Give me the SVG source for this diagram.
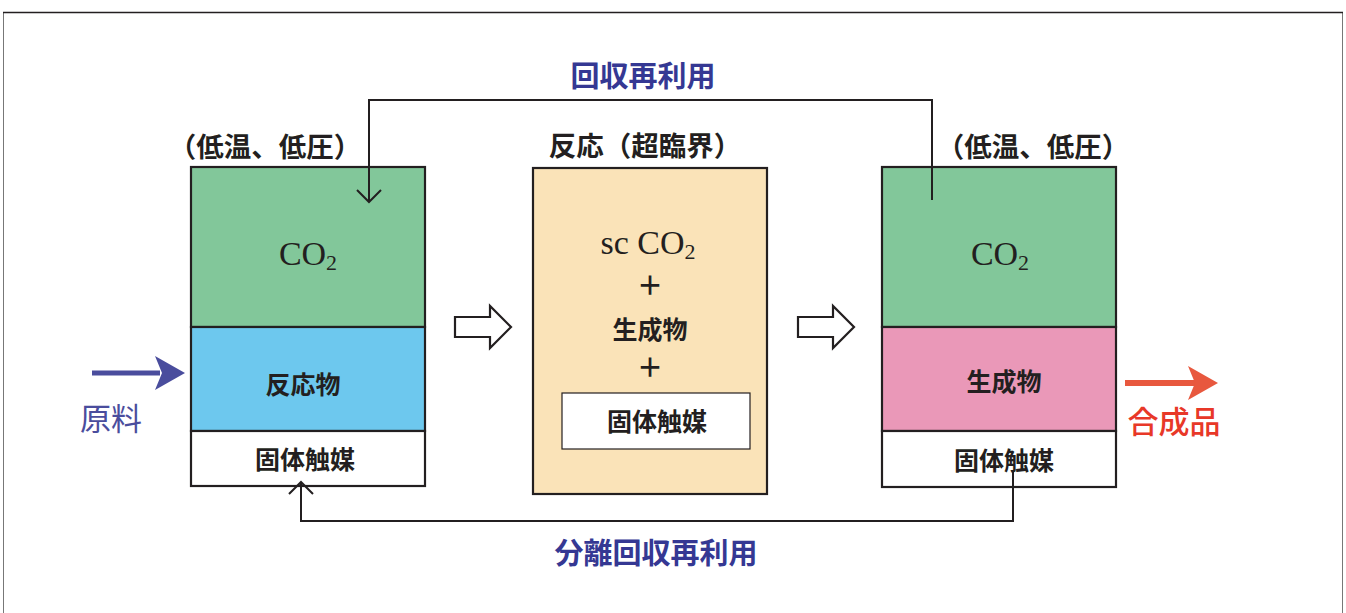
<svg xmlns="http://www.w3.org/2000/svg" width="1346" height="613" viewBox="0 0 1346 613">
<style>
.box{stroke:#231f20;stroke-width:2.2}
.jp{font-family:"Noto Sans CJK JP","Noto Sans",sans-serif;font-weight:700;fill:#231f20}
.lbl{font-size:25px;text-anchor:middle}
.hdr{font-size:27.5px;text-anchor:middle}
.co{font-family:"Liberation Serif",serif;font-size:34px;fill:#231f20;text-anchor:middle}
.blue{font-family:"Noto Sans CJK JP",sans-serif;font-weight:700;fill:#353893;font-size:29px;text-anchor:middle}
.conn{fill:none;stroke:#231f20;stroke-width:2}
.hollow{fill:#fff;stroke:#231f20;stroke-width:2.2;stroke-linejoin:miter}
</style>
<rect width="1346" height="613" fill="#fff"/>
<path d="M3.5 613 V12.5 H1342.5 V613" fill="none" stroke="#777" stroke-width="1"/>
<line x1="3" y1="12.5" x2="1343" y2="12.5" stroke="#231f20" stroke-width="1.5"/>

<g id="left-vessel">
<text class="jp hdr" x="265" y="157">（低温、低圧）</text>
<rect x="191" y="167" width="234" height="160" fill="#82c79a" class="box"/>
<rect x="191" y="327" width="234" height="104" fill="#6dc8ee" class="box"/>
<rect x="191" y="431" width="234" height="55" fill="#fff" class="box"/>
<text class="co" x="308" y="265">CO<tspan font-size="22" dy="5">2</tspan></text>
<text class="jp lbl" x="303" y="394">反応物</text>
<text class="jp lbl" x="305" y="469">固体触媒</text>
</g>

<g id="reactor">
<text class="jp hdr" x="645" y="156">反応（超臨界）</text>
<rect x="533" y="168" width="234" height="326" fill="#fae3b8" class="box"/>
<text class="co" x="648" y="254">sc CO<tspan font-size="22" dy="5">2</tspan></text>
<text class="jp" x="650" y="295" font-size="26" font-weight="400" text-anchor="middle">＋</text>
<text class="jp lbl" x="650" y="339">生成物</text>
<text class="jp" x="650" y="377" font-size="26" font-weight="400" text-anchor="middle">＋</text>
<rect x="562" y="393" width="188" height="56" fill="#fff" stroke="#231f20" stroke-width="1.2"/>
<text class="jp lbl" x="657" y="431">固体触媒</text>
</g>

<g id="right-vessel">
<text class="jp hdr" x="1033" y="157">（低温、低圧）</text>
<rect x="882" y="167" width="234" height="160" fill="#82c79a" class="box"/>
<rect x="882" y="327" width="234" height="104" fill="#ea98b8" class="box"/>
<rect x="882" y="431" width="234" height="56" fill="#fff" class="box"/>
<text class="co" x="1000" y="265">CO<tspan font-size="22" dy="5">2</tspan></text>
<text class="jp lbl" x="1004" y="391">生成物</text>
<text class="jp lbl" x="1004" y="470">固体触媒</text>
</g>

<g id="feed">
<line x1="92" y1="373" x2="160" y2="373" stroke="#4a4d9d" stroke-width="5"/>
<path d="M155 356 L185 373 L155 390 L162 373 Z" fill="#4a4d9d"/>
<text x="111" y="430" font-family="'Noto Sans CJK JP',sans-serif" font-size="31" fill="#4a4d9d" text-anchor="middle">原料</text>
</g>

<g id="product">
<line x1="1125" y1="383" x2="1195" y2="383" stroke="#e8583e" stroke-width="6"/>
<path d="M1188 366 L1218 383 L1188 400 L1195 383 Z" fill="#e8583e"/>
<text x="1174" y="433" font-family="'Noto Sans CJK JP',sans-serif" font-weight="500" font-size="31" fill="#e83828" text-anchor="middle">合成品</text>
</g>

<g id="connectors">
<path class="hollow" d="M455 317 H490 V306 L511 327 L490 348 V337 H455 Z"/>
<path class="hollow" d="M798 317 H833 V306 L854 327 L833 348 V337 H798 Z"/>
<path class="conn" d="M932 200 V100 H369 V202"/>
<path class="conn" d="M357 190 L369 202 L381 190"/>
<path class="conn" d="M1013 470 V521 H301 V482"/>
<path class="conn" d="M289 494 L301 482 L313 494"/>
<text class="blue" x="643" y="87">回収再利用</text>
<text class="blue" x="656" y="564">分離回収再利用</text>
</g>
</svg>
